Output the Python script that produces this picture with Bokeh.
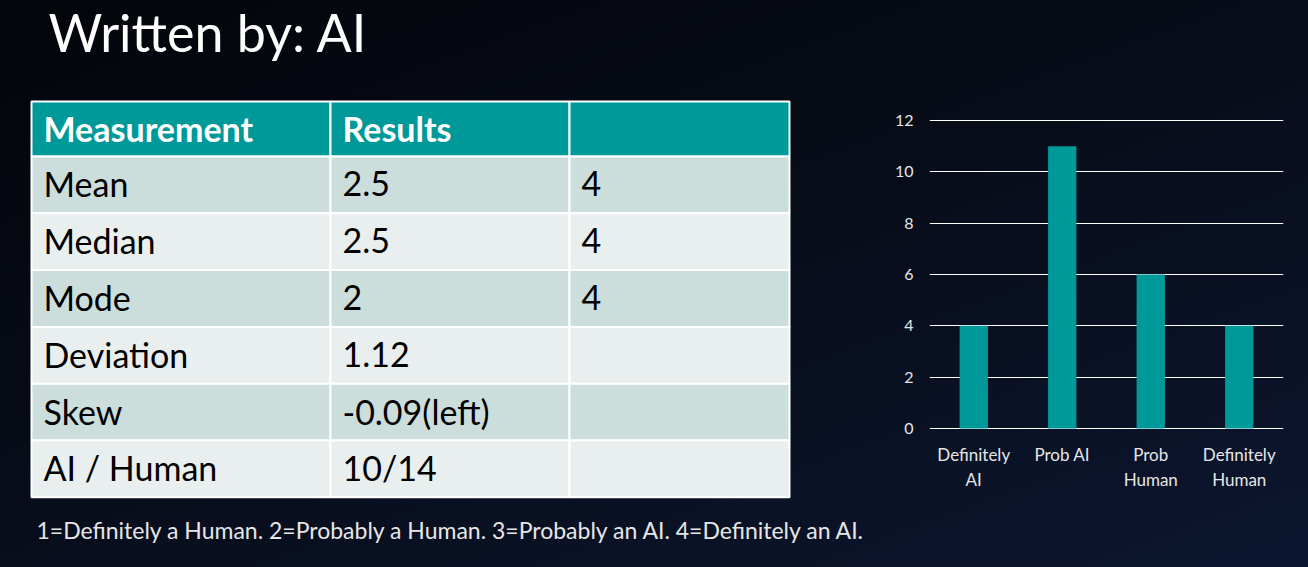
from bokeh.plotting import figure
from bokeh.models import Range1d, FactorRange, FixedTicker
from bokeh.layouts import row
from bokeh.core.properties import value
from bokeh.embed import file_html
from bokeh.resources import INLINE

# ---------------- data ----------------
title_text = "Written by: AI"
header = ["Measurement", "Results", ""]
measurements = ["Mean", "Median", "Mode", "Deviation", "Skew", "AI / Human"]
results = ["2.5", "2.5", "2", "1.12", "-0.09(left)", "10/14"]
extra = ["4", "4", "4", "", "", ""]
footnote = "1=Definitely a Human. 2=Probably a Human. 3=Probably an AI. 4=Definitely an AI."

categories = ["Definitely\nAI", "Prob AI", "Prob\nHuman", "Definitely\nHuman"]
counts = [4, 11, 6, 4]
y_ticks = [0, 2, 4, 6, 8, 10, 12]

# ---------------- style ----------------
FONT = "Lato"
TEAL = "#009999"
ROW_A = "#CBDEDC"
ROW_B = "#E8EFEE"
TXT_LIGHT = "#E6E6E6"
W, H = 1308, 567
LW = 868          # width of the left panel
RW = W - LW       # width of the chart panel
SHIFT = 0.4       # baseline correction (in em) for the svg text glyph


def base_y(baseline, size):
    return baseline - SHIFT * size


# ---------------- left panel (title, table, footnote) ----------------
left = figure(width=LW, height=H, x_range=Range1d(0, LW), y_range=Range1d(H, 0),
              output_backend="svg", toolbar_location=None, min_border=0)
left.axis.visible = False
left.grid.visible = False
left.outline_line_color = None
left.background_fill_alpha = 0
left.border_fill_alpha = 0

left.text(x=[48], y=[base_y(52, 52)], text=[title_text], text_font=value(FONT),
          text_font_size="52px", text_color="white", text_baseline="alphabetic")

col_edges = [31, 330, 569, 789]
table_top = 101
header_h = 55
row_h = 56.8
pad = 12
base = 41
TS = 34

# header
hl, hr, ht, hb, htx, hty, hlab = [], [], [], [], [], [], []
for j, lab in enumerate(header):
    hl.append(col_edges[j]); hr.append(col_edges[j + 1])
    ht.append(table_top); hb.append(table_top + header_h)
    htx.append(col_edges[j] + pad); hty.append(base_y(table_top + base, TS)); hlab.append(lab)
left.quad(left=hl, right=hr, top=ht, bottom=hb, fill_color=TEAL, line_color="white", line_width=2)
left.text(x=htx, y=hty, text=hlab, text_font=value(FONT), text_font_style="bold",
          text_font_size=f"{TS}px", text_color="white", text_baseline="alphabetic")

# body
bl, br, bt, bb, bc = [], [], [], [], []
tx, ty, tt = [], [], []
for i in range(len(measurements)):
    top = table_top + header_h + i * row_h
    color = ROW_A if i % 2 == 0 else ROW_B
    for j, lab in enumerate([measurements[i], results[i], extra[i]]):
        bl.append(col_edges[j]); br.append(col_edges[j + 1])
        bt.append(top); bb.append(top + row_h); bc.append(color)
        tx.append(col_edges[j] + pad); ty.append(base_y(top + base, TS)); tt.append(lab)
left.quad(left=bl, right=br, top=bt, bottom=bb, fill_color=bc, line_color="white", line_width=2)
left.text(x=tx, y=ty, text=tt, text_font=value(FONT), text_font_size=f"{TS}px",
          text_color="black", text_baseline="alphabetic")

left.text(x=[36], y=[base_y(539, 23)], text=[footnote], text_font=value(FONT),
          text_font_size="23px", text_color=TXT_LIGHT, text_baseline="alphabetic")

# ---------------- right panel (bar chart) ----------------
# plot area in page pixels: x 929..1283, y(12)=120 .. y(0)=428 ; frame uses full height
px_top, px_zero, vmax = 120, 428, 12
ppu = (px_zero - px_top) / vmax
y_lo = -(H - px_zero) / ppu
y_hi = vmax + px_top / ppu

bar = figure(width=RW, height=H, x_range=FactorRange(*categories), y_range=Range1d(y_lo, y_hi),
             output_backend="svg", toolbar_location=None,
             min_border_left=929 - LW, min_border_right=W - 1283, min_border_top=0, min_border_bottom=0)
bar.background_fill_alpha = 0
bar.border_fill_alpha = 0
bar.outline_line_color = None
bar.vbar(x=categories, top=counts, width=0.32, fill_color=TEAL, line_color=None)

bar.xgrid.visible = False
bar.ygrid.grid_line_color = "white"
bar.ygrid.grid_line_width = 1
bar.yaxis.ticker = FixedTicker(ticks=y_ticks)
bar.ygrid.ticker = FixedTicker(ticks=y_ticks)
bar.xaxis.fixed_location = 0
for ax in (bar.xaxis, bar.yaxis):
    ax.axis_line_color = None
    ax.major_tick_line_color = None
    ax.minor_tick_line_color = None
    ax.major_tick_out = 0
    ax.major_tick_in = 0
    ax.major_label_text_color = TXT_LIGHT
    ax.major_label_text_font = FONT
bar.xaxis.major_label_text_font_size = "17px"
bar.yaxis.major_label_text_font_size = "16px"
bar.yaxis.major_label_standoff = 16
bar.xaxis.major_label_standoff = 15

layout = row(left, bar, styles={"background": "linear-gradient(160deg, #03050a 0%, #070c18 45%, #0c1630 100%)"})

open("out.html", "w").write(file_html(layout, INLINE))
